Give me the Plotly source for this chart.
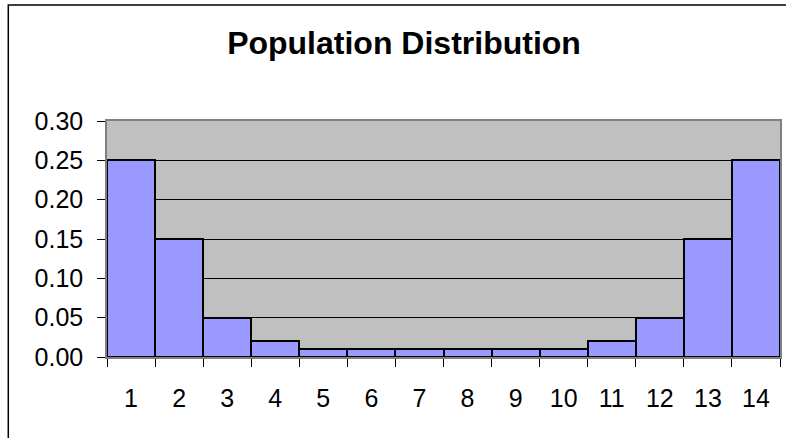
import plotly.graph_objects as go

# Probability mass of each population value
categories = [str(i) for i in range(1, 15)]
probabilities = [0.25, 0.15, 0.05, 0.02, 0.01, 0.01, 0.01,
                 0.01, 0.01, 0.01, 0.02, 0.05, 0.15, 0.25]
y_ticks = [0.00, 0.05, 0.10, 0.15, 0.20, 0.25, 0.30]

W, H = 788, 438
L, R, T, B = 107, 6, 121, 81
plot_w = W - L - R
plot_h = H - T - B

fig = go.Figure(
    go.Bar(
        x=categories,
        y=probabilities,
        marker=dict(color="#9999FF", line=dict(color="#000000", width=2)),
        hoverinfo="x+y",
    )
)

tick_font = dict(family="Liberation Sans, Arial, sans-serif", size=25, color="#000000")

fig.update_layout(
    width=W,
    height=H,
    margin=dict(l=L, r=R, t=T, b=B, pad=0),
    paper_bgcolor="#FFFFFF",
    plot_bgcolor="#C0C0C0",
    bargap=0,
    showlegend=False,
    title=dict(
        text="<b>Population Distribution</b>",
        font=dict(family="Liberation Sans, Arial, sans-serif", size=32, color="#000000"),
        xref="container", x=404 / W, xanchor="center",
        yref="container", y=1 - 43 / H, yanchor="middle",
    ),
    xaxis=dict(
        type="category",
        tickson="boundaries",
        ticks="outside",
        ticklen=8,
        tickcolor="#000000",
        tickfont=tick_font,
        ticklabelstandoff=18,
        showgrid=False,
        showline=True,
        linecolor="#808080",
        linewidth=1.5,
        mirror=True,
        zeroline=False,
    ),
    yaxis=dict(
        range=[0, 0.30],
        tickvals=y_ticks,
        tickformat=".2f",
        ticks="outside",
        ticklen=8,
        tickcolor="#000000",
        tickfont=tick_font,
        ticklabelstandoff=9,
        showgrid=True,
        gridcolor="#000000",
        gridwidth=1,
        showline=True,
        linecolor="#808080",
        linewidth=1.5,
        mirror=True,
        zeroline=False,
    ),
)

# Chart-area frame: only its left and top edges lie inside the page
fx = (8 - L) / plot_w
fy = (H - B - 5) / plot_h
fx_end = (W - L) / plot_w
fy_end = -B / plot_h
fig.add_shape(
    type="path",
    xref="paper", yref="paper",
    path=f"M {fx},{fy_end} L {fx},{fy} L {fx_end},{fy}",
    line=dict(color="#000000", width=1.5),
    layer="above",
)

fig.write_html("out.html")
